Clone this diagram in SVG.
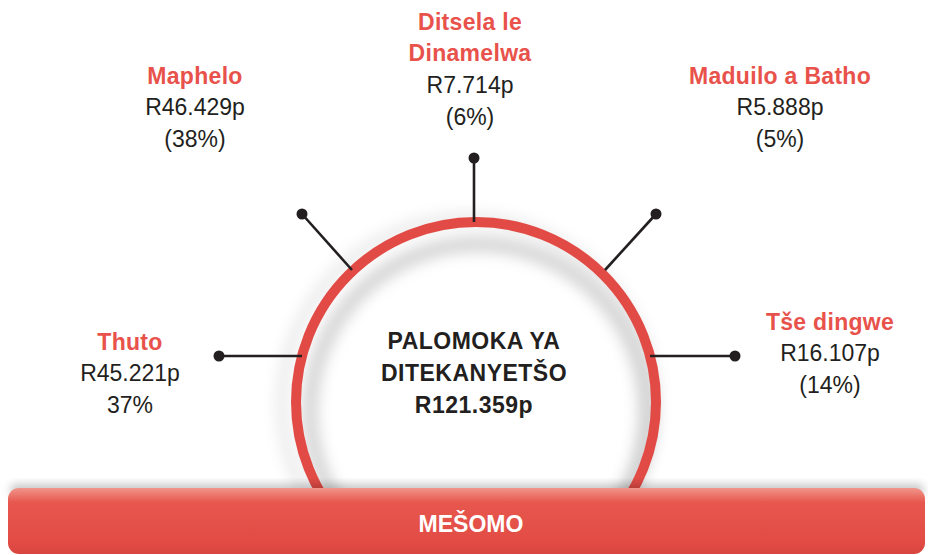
<svg xmlns="http://www.w3.org/2000/svg" width="928" height="555" viewBox="0 0 928 555">
<defs>
<style>
text{font-family:"Liberation Sans",sans-serif}
.lbl{font-size:23px;text-anchor:middle}
.red{fill:#e8524b;font-weight:bold;letter-spacing:0.3px}
.val{fill:#231f20}
.ctr{font-size:23px;font-weight:bold;fill:#231f20;text-anchor:middle;letter-spacing:0.5px}
.conn line{stroke:#231f20;stroke-width:2.6}
.conn circle{fill:#231f20}
</style>
<clipPath id="top"><rect x="0" y="0" width="928" height="498"/></clipPath>
<filter id="blur" x="-30%" y="-30%" width="160%" height="160%"><feGaussianBlur stdDeviation="7"/></filter>
<filter id="bblur" x="-5%" y="-50%" width="110%" height="200%"><feGaussianBlur stdDeviation="4"/></filter>
<linearGradient id="bar" x1="0" y1="0" x2="0" y2="1">
<stop offset="0" stop-color="#f0958a"/>
<stop offset="0.22" stop-color="#e7574e"/>
<stop offset="0.8" stop-color="#e24c45"/>
<stop offset="1" stop-color="#d8453f"/>
</linearGradient>
</defs>
<rect width="928" height="555" fill="#ffffff"/>
<g id="ring-node" clip-path="url(#top)">
<circle cx="468" cy="404" r="186" fill="none" stroke="#000" stroke-opacity="0.08" stroke-width="12" filter="url(#blur)"/>
<circle cx="478" cy="412" r="168" fill="none" stroke="#000" stroke-opacity="0.16" stroke-width="16" filter="url(#blur)"/>
<circle cx="476" cy="402" r="180" fill="none" stroke="#e24b45" stroke-width="10"/>
</g>
<g id="connectors" class="conn">
<line x1="474" y1="158" x2="474" y2="222"/><circle cx="474" cy="158" r="5.5"/>
<line x1="302" y1="214" x2="352" y2="270"/><circle cx="302" cy="214" r="5.5"/>
<line x1="656" y1="214" x2="605" y2="270"/><circle cx="656" cy="214" r="5.5"/>
<line x1="219" y1="356" x2="302" y2="356"/><circle cx="219" cy="356" r="5.5"/>
<line x1="735" y1="356" x2="650" y2="356"/><circle cx="735" cy="356" r="5.5"/>
</g>
<g id="center">
<text class="ctr" x="474" y="349">PALOMOKA YA</text>
<text class="ctr" x="474" y="381">DITEKANYETŠO</text>
<text class="ctr" x="474" y="413">R121.359p</text>
</g>
<g id="maphelo">
<text class="lbl red" x="195" y="84">Maphelo</text>
<text class="lbl val" x="195" y="115">R46.429p</text>
<text class="lbl val" x="195" y="147">(38%)</text>
</g>
<g id="ditsela">
<text class="lbl red" x="470" y="30">Ditsela le</text>
<text class="lbl red" x="470" y="61">Dinamelwa</text>
<text class="lbl val" x="470" y="93">R7.714p</text>
<text class="lbl val" x="470" y="125">(6%)</text>
</g>
<g id="maduilo">
<text class="lbl red" x="780" y="84">Maduilo a Batho</text>
<text class="lbl val" x="780" y="115">R5.888p</text>
<text class="lbl val" x="780" y="147">(5%)</text>
</g>
<g id="thuto">
<text class="lbl red" x="130" y="350">Thuto</text>
<text class="lbl val" x="130" y="381">R45.221p</text>
<text class="lbl val" x="130" y="413">37%</text>
</g>
<g id="tse">
<text class="lbl red" x="830" y="330">Tše dingwe</text>
<text class="lbl val" x="830" y="361">R16.107p</text>
<text class="lbl val" x="830" y="393">(14%)</text>
</g>
<g id="mesomo">
<rect x="10" y="484" width="914" height="12" rx="6" fill="#000" fill-opacity="0.22" filter="url(#bblur)"/>
<rect x="8" y="488" width="917" height="66" rx="11" fill="url(#bar)"/>
<text x="471" y="532" font-size="23" font-weight="bold" fill="#ffffff" text-anchor="middle">MEŠOMO</text>
</g>
</svg>
